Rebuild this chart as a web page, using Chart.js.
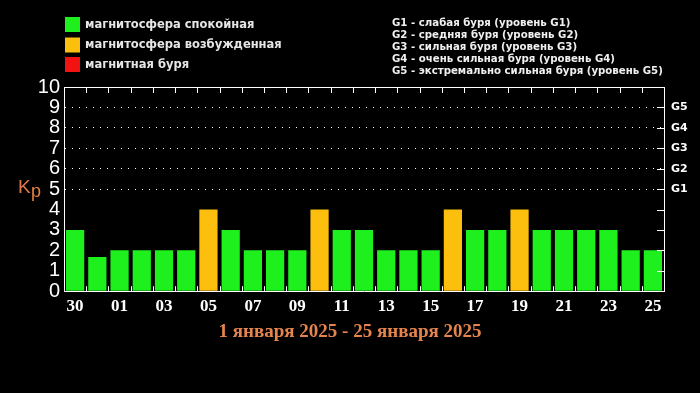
<!DOCTYPE html>
<html>
<head>
<meta charset="utf-8">
<script src="https://cdn.jsdelivr.net/npm/chart.js@4"></script>
<style>
  html, body { margin: 0; padding: 0; background: #000; }
  #wrap { width: 700px; height: 393px; }
</style>
</head>
<body>
<div id="wrap"><canvas id="kpChart"></canvas></div>
<script>
// days: 30, 31 December then 1..25 January
var days = ['30', '31', '01', '02', '03', '04', '05', '06', '07', '08', '09', '10', '11', '12',
            '13', '14', '15', '16', '17', '18', '19', '20', '21', '22', '23', '24', '25'];
var kpValues = [3, 1.67, 2, 2, 2, 2, 4, 3, 2, 2, 2, 4, 3, 3, 2, 2, 2, 4, 3, 3, 4, 3, 3, 3, 3, 2, 2];
var gLevels = ['G1', 'G2', 'G3', 'G4', 'G5'];
var statusLabels = ['магнитосфера спокойная', 'магнитосфера возбужденная', 'магнитная буря'];
var statusColors = ['#1ef01e', '#fcbf0e', '#f21212'];
var gDescriptions = [
    'G1 - слабая буря (уровень G1)',
    'G2 - средняя буря (уровень G2)',
    'G3 - сильная буря (уровень G3)',
    'G4 - очень сильная буря (уровень G4)',
    'G5 - экстремально сильная буря (уровень G5)'
];
var periodTitle = '1 января 2025 - 25 января 2025';

// colour a bar by its Kp value
function barColor(v) {
    if (v >= 5) return statusColors[2];
    if (v >= 4) return statusColors[1];
    return statusColors[0];
}

// legends, Kp label, top border and the small tick marks
var decorPlugin = {
    id: 'decor',
    afterDraw: function (chart) {
        var ctx = chart.ctx;
        var area = chart.chartArea;
        var xs = chart.scales.x;
        var ys = chart.scales.y;
        ctx.save();

        // left legend
        ctx.textBaseline = 'middle';
        ctx.font = 'bold 11.5px "DejaVu Sans"';
        var rowY = [24.5, 45, 64.5];
        statusLabels.forEach(function (lbl, i) {
            ctx.fillStyle = statusColors[i];
            ctx.fillRect(65, rowY[i] - 7.5, 15, 15);
            ctx.fillStyle = '#e6e6e6';
            ctx.fillText(lbl, 85, rowY[i] + 0.5);
        });

        // right legend
        ctx.font = 'bold 10.2px "DejaVu Sans"';
        ctx.fillStyle = '#f0f0f0';
        gDescriptions.forEach(function (txt, i) {
            ctx.fillText(txt, 392, 23 + i * 12.1);
        });

        // Kp
        ctx.font = '19px "Liberation Sans"';
        ctx.fillStyle = '#e0774c';
        ctx.fillText('K', 18, 188);
        ctx.font = '18px "Liberation Sans"';
        ctx.fillStyle = '#e8843e';
        ctx.fillText('p', 31, 192);

        // top border + tick marks at category boundaries
        ctx.strokeStyle = '#fff';
        ctx.lineWidth = 1;
        ctx.beginPath();
        ctx.moveTo(area.left, area.top + 0.5);
        ctx.lineTo(area.right, area.top + 0.5);
        for (var k = 1; k < days.length; k++) {
            var bx = Math.round((xs.getPixelForValue(k - 1) + xs.getPixelForValue(k)) / 2) + 0.5;
            ctx.moveTo(bx, area.top);
            ctx.lineTo(bx, area.top + 6);
            ctx.moveTo(bx, area.bottom);
            ctx.lineTo(bx, area.bottom - 5);
        }
        // right axis ticks, pointing inward
        for (var v = 1; v <= 9; v++) {
            var ty = Math.round(ys.getPixelForValue(v)) + 0.5;
            ctx.moveTo(area.right - 7, ty);
            ctx.lineTo(area.right, ty);
        }
        ctx.stroke();
        ctx.restore();
    }
};

var ctx = document.getElementById('kpChart').getContext('2d');
var kpChart = new Chart(ctx, {
    type: 'bar',
    data: {
        labels: days,
        datasets: [{
            data: kpValues,
            backgroundColor: function (c) { return barColor(c.raw); },
            borderWidth: 0,
            barPercentage: 0.82,
            categoryPercentage: 1
        }]
    },
    options: {
        responsive: true,
        maintainAspectRatio: false,
        animation: false,
        layout: { padding: { top: 87, bottom: 50, left: 0, right: 0 } },
        plugins: {
            legend: { display: false },
            tooltip: { enabled: false },
            title: {
                display: true,
                position: 'bottom',
                text: periodTitle,
                color: '#e5844c',
                font: { family: '"Liberation Serif"', size: 19, weight: 'bold' },
                padding: { top: 0, bottom: 0 }
            }
        },
        scales: {
            x: {
                grid: { display: false, drawTicks: false },
                border: { display: true, color: '#fff', width: 1 },
                ticks: {
                    color: '#fff',
                    autoSkip: false,
                    maxRotation: 0,
                    padding: 5,
                    font: { family: '"Liberation Serif"', size: 17, weight: 'bold' },
                    callback: function (val, i) { return i % 2 === 0 ? days[i] : ''; }
                },
                afterFit: function (s) { s.height = 29; }
            },
            y: {
                min: 0,
                max: 10,
                ticks: {
                    stepSize: 1,
                    autoSkip: false,
                    color: '#fff',
                    padding: 4,
                    font: { family: '"Liberation Sans"', size: 20, lineHeight: 1 }
                },
                grid: {
                    drawTicks: false,
                    color: function (c) {
                        var v = c.tick && c.tick.value;
                        return (v >= 5 && v <= 9) ? '#ffffff' : 'rgba(0,0,0,0)';
                    }
                },
                border: { display: true, color: '#fff', width: 1, dash: [1, 6] },
                afterFit: function (s) { s.width = 64; }
            },
            y2: {
                position: 'right',
                min: 0,
                max: 10,
                ticks: {
                    stepSize: 1,
                    autoSkip: false,
                    color: '#fff',
                    padding: 7,
                    font: { family: '"DejaVu Sans"', size: 11, weight: 'bold' },
                    callback: function (v) { return (v >= 5 && v <= 9) ? gLevels[v - 5] : ''; }
                },
                grid: { display: false, drawTicks: false },
                border: { display: true, color: '#fff', width: 1 },
                afterFit: function (s) { s.width = 36; }
            }
        }
    },
    plugins: [decorPlugin]
});
</script>
</body>
</html>
